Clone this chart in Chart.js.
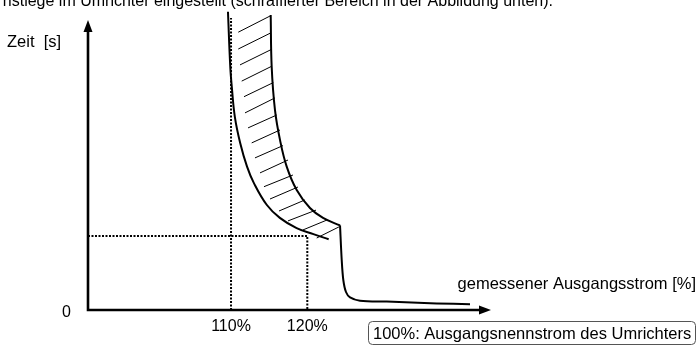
<!DOCTYPE html>
<html>
<head>
<meta charset="utf-8">
<script src="https://cdn.jsdelivr.net/npm/chart.js@4/dist/chart.umd.min.js"></script>
<style>
  html, body { margin: 0; padding: 0; background: #fff; }
  canvas { display: block; }
</style>
</head>
<body>
<canvas id="overload-chart" width="698" height="346"></canvas>
<script>
// tick labels
const xTicks = [110, 120];
const yTicks = [0];

// lower limit of the trip band (current in %, time in relative units)
const lowerX = [109.6, 109.9, 110.1, 110.5, 111.2, 112.1, 113.0, 114.7, 116.4, 118.6, 120.8, 122.8];
const lowerY = [99.4, 81.1, 74.4, 64.4, 55.7, 47.8, 42.3, 35.0, 30.7, 27.3, 25.3, 23.6];

// upper limit of the trip band
const upperX = [115.2, 115.33, 115.76, 116.42, 117.3, 118.61, 120.35, 122.06, 124.29];
const upperY = [98.3, 81.1, 66.7, 56.7, 47.8, 40.0, 34.0, 30.7, 28.2];

// steep drop after the band and the tail along the axis
const dropX = [124.29, 124.51, 124.72, 125.07, 125.6, 126.91, 130.41, 136.96, 141.33];
const dropY = [28.2, 16.7, 10.0, 6.0, 4.2, 3.1, 2.8, 2.2, 1.9];

// hatching between both limits
const hatchStartX = [110.95, 110.95, 111.18, 111.4, 111.7, 111.83, 112.23, 112.71, 113.14, 113.8, 114.32, 115.11, 116.29, 117.47, 119.44, 121.23];
const hatchStartY = [92.6, 87.0, 81.7, 76.3, 71.1, 65.7, 60.7, 55.7, 50.7, 45.7, 41.1, 37.0, 33.0, 29.7, 26.7, 24.0];
const hatchEndX = [115.2, 115.24, 115.33, 115.37, 115.54, 115.76, 115.99, 116.42, 116.81, 117.47, 118.12, 118.78, 119.7, 121.14, 122.58, 124.15];
const hatchEndY = [98.1, 92.4, 86.9, 81.3, 75.8, 70.7, 65.0, 60.0, 54.8, 50.0, 45.0, 41.0, 36.7, 33.3, 30.0, 27.7];

// dotted guide lines
const guideTop = 97.3;
const guideLevel = 24.7;

const xMin = 91.25, xMax = 143.95;
const yMin = 0, yMax = 100;

const captionText = 'nstiege im Umrichter eingestellt (schraffierter Bereich in der Abbildung unten).';
const yTitle = 'Zeit  [s]';
const xTitle = 'gemessener Ausgangsstrom [%]';
const noteText = '100%: Ausgangsnennstrom des Umrichters';

const FAMILY = '"Liberation Sans", Arial, sans-serif';

function pts(xs, ys) {
    return xs.map((x, i) => ({ x: x, y: ys[i] }));
}

const hatchData = [];
hatchStartX.forEach((x, i) => {
    hatchData.push({ x: x, y: hatchStartY[i] });
    hatchData.push({ x: hatchEndX[i], y: hatchEndY[i] });
    hatchData.push({ x: null, y: null });
});

const guideData = [
    { x: xTicks[0], y: yMin }, { x: xTicks[0], y: guideTop },
    { x: null, y: null },
    { x: xMin, y: guideLevel }, { x: xTicks[1], y: guideLevel }, { x: xTicks[1], y: yMin }
];

// axes with arrow heads plus the free text around the plot
const decorations = {
    id: 'decorations',
    afterDraw(chart) {
        const c = chart.ctx;
        const xs = chart.scales.x, ys = chart.scales.y;
        const x0 = xs.getPixelForValue(xMin);
        const y0 = ys.getPixelForValue(yMin);
        const xEnd = xs.getPixelForValue(xMax) + 1;
        const yEnd = ys.getPixelForValue(yMax) + 10;

        c.save();
        c.strokeStyle = '#000';
        c.fillStyle = '#000';
        c.lineWidth = 2.6;
        c.beginPath();
        c.moveTo(x0, y0);
        c.lineTo(xEnd - 8, y0);
        c.moveTo(x0, y0 + 1.3);
        c.lineTo(x0, yEnd + 8);
        c.stroke();

        c.beginPath();
        c.moveTo(xEnd, y0);
        c.lineTo(xEnd - 12, y0 - 4.5);
        c.lineTo(xEnd - 12, y0 + 4.5);
        c.closePath();
        c.fill();

        c.beginPath();
        c.moveTo(x0, yEnd);
        c.lineTo(x0 - 4.5, yEnd + 12);
        c.lineTo(x0 + 4.5, yEnd + 12);
        c.closePath();
        c.fill();

        c.textBaseline = 'alphabetic';
        c.font = '16px ' + FAMILY;
        c.textAlign = 'right';
        c.fillText(captionText, 553, 6);
        c.font = '16.5px ' + FAMILY;
        c.fillText(xTitle, 696, 289);
        c.textAlign = 'left';
        c.fillText(yTitle, 7, 47);

        // note box below the current axis
        c.lineWidth = 1;
        c.strokeStyle = '#555';
        c.beginPath();
        c.roundRect(368.5, 321.5, 327, 23, 4);
        c.stroke();
        c.fillText(noteText, 373, 339);
        c.restore();
    }
};

const ctx = document.getElementById('overload-chart').getContext('2d');
const overloadChart = new Chart(ctx, {
    type: 'line',
    data: {
        datasets: [{
            data: pts(lowerX, lowerY),
            borderColor: '#000',
            borderWidth: 2,
            tension: 0.4
        }, {
            data: pts(upperX, upperY),
            borderColor: '#000',
            borderWidth: 2,
            tension: 0.4
        }, {
            data: pts(dropX, dropY),
            borderColor: '#000',
            borderWidth: 2,
            tension: 0.3
        }, {
            data: hatchData,
            borderColor: '#000',
            borderWidth: 1,
            tension: 0
        }, {
            data: guideData,
            borderColor: '#000',
            borderWidth: 2,
            borderDash: [2, 1.5],
            tension: 0
        }]
    },
    options: {
        responsive: false,
        animation: false,
        devicePixelRatio: 1,
        spanGaps: false,
        elements: {
            point: { radius: 0, hoverRadius: 0 }
        },
        layout: {
            padding: { left: 0, right: 208, top: 10, bottom: 0 }
        },
        plugins: {
            legend: { display: false },
            tooltip: { enabled: false }
        },
        scales: {
            x: {
                type: 'linear',
                min: xMin,
                max: xMax,
                grid: { display: false, drawTicks: false },
                border: { display: false },
                afterBuildTicks: (scale) => { scale.ticks = xTicks.map(v => ({ value: v })); },
                afterFit: (scale) => {
                    scale.height = 36;
                    scale.paddingLeft = 0;
                    scale.paddingRight = 0;
                },
                ticks: {
                    autoSkip: false,
                    maxRotation: 0,
                    padding: 7,
                    color: '#000',
                    font: { family: FAMILY, size: 16 },
                    callback: (v) => v + '%'
                }
            },
            y: {
                type: 'linear',
                min: yMin,
                max: yMax,
                grid: { display: false, drawTicks: false },
                border: { display: false },
                afterBuildTicks: (scale) => { scale.ticks = yTicks.map(v => ({ value: v })); },
                afterFit: (scale) => {
                    scale.width = 88;
                    scale.paddingTop = 0;
                    scale.paddingBottom = 0;
                },
                ticks: {
                    padding: 17,
                    labelOffset: 3,
                    color: '#000',
                    font: { family: FAMILY, size: 16 },
                    callback: (v) => String(v)
                }
            }
        }
    },
    plugins: [decorations]
});
</script>
</body>
</html>
